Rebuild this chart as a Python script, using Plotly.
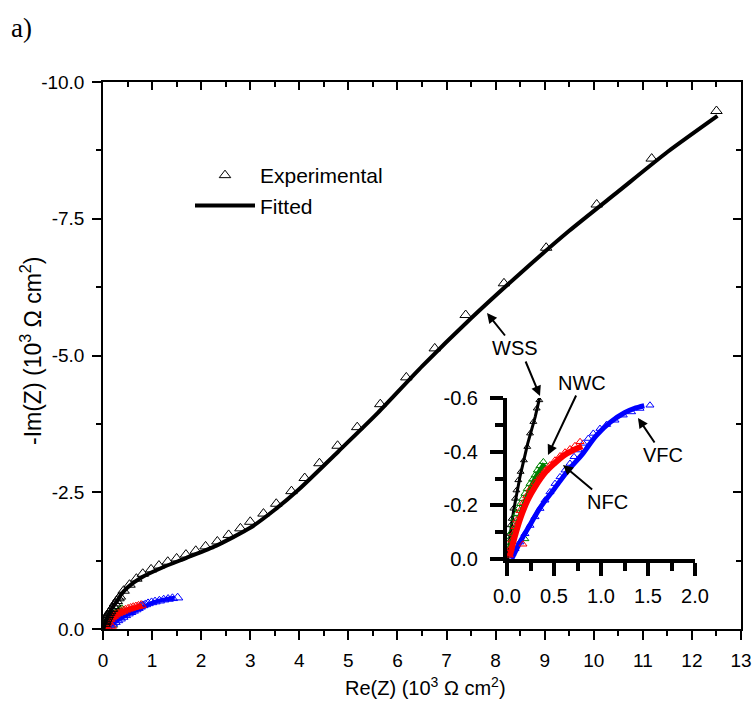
import plotly.graph_objects as go

# ---------------- data (Re(Z), Im(Z) in 10^3 ohm cm^2) ----------------
wss_exp_re = [0.032, 0.039, 0.05, 0.067, 0.085, 0.10, 0.12, 0.145, 0.18, 0.216, 0.245, 0.28, 0.316, 0.344,
              0.42, 0.54, 0.68, 0.81, 0.98, 1.14, 1.32, 1.50, 1.69, 1.89, 2.09, 2.33, 2.56, 2.80, 3.00,
              3.27, 3.53, 3.84, 4.11, 4.41, 4.78, 5.18, 5.65, 6.18, 6.76, 7.39, 8.17, 9.03, 10.06, 11.18, 12.5]
wss_exp_im = [-0.094, -0.126, -0.15, -0.188, -0.225, -0.256, -0.294, -0.325, -0.368, -0.418, -0.468, -0.511, -0.561, -0.592,
              -0.70, -0.81, -0.92, -1.01, -1.09, -1.16, -1.23, -1.29, -1.36, -1.43, -1.51, -1.60, -1.72, -1.84, -1.96,
              -2.11, -2.29, -2.52, -2.76, -3.03, -3.35, -3.69, -4.11, -4.60, -5.13, -5.74, -6.32, -6.97, -7.76, -8.60, -9.47]
wss_fit_re = [0.01, 0.03, 0.07, 0.14, 0.22, 0.30, 0.36, 0.5, 0.8, 1.2, 1.7, 2.3, 3.0, 3.5, 4.0, 4.8, 5.6,
              6.5, 7.5, 8.5, 9.5, 10.5, 11.5, 12.52]
wss_fit_im = [0.0, -0.08, -0.18, -0.31, -0.43, -0.53, -0.62, -0.76, -0.95, -1.12, -1.30, -1.52, -1.85, -2.18,
              -2.56, -3.25, -3.95, -4.80, -5.68, -6.50, -7.28, -8.00, -8.72, -9.38]

nwc_exp_re = [0.025, 0.032, 0.05, 0.067, 0.085, 0.103, 0.121, 0.145, 0.167, 0.191, 0.216, 0.245, 0.273, 0.298,
              0.323, 0.351, 0.387, 0.19]
nwc_exp_im = [-0.051, -0.076, -0.101, -0.126, -0.151, -0.169, -0.188, -0.206, -0.225, -0.244, -0.262, -0.281,
              -0.297, -0.312, -0.331, -0.347, -0.362, -0.075]
nwc_fit_re = [0.03, 0.1, 0.2, 0.3, 0.4]
nwc_fit_im = [-0.04, -0.12, -0.22, -0.30, -0.355]

nfc_exp_re = [0.025, 0.032, 0.05, 0.067, 0.085, 0.103, 0.138, 0.174, 0.209, 0.245, 0.298, 0.351, 0.404, 0.457,
              0.511, 0.564, 0.617, 0.670, 0.723, 0.777, 0.17]
nfc_exp_im = [-0.014, -0.038, -0.07, -0.095, -0.12, -0.145, -0.18, -0.21, -0.235, -0.26, -0.285, -0.308, -0.33,
              -0.35, -0.368, -0.384, -0.398, -0.41, -0.422, -0.437, -0.055]
nfc_fit_re = [0.03, 0.08, 0.14, 0.22, 0.30, 0.40, 0.50, 0.60, 0.70, 0.80]
nfc_fit_im = [-0.01, -0.08, -0.15, -0.22, -0.27, -0.32, -0.355, -0.385, -0.405, -0.42]

vfc_exp_re = [0.05, 0.085, 0.138, 0.191, 0.245, 0.298, 0.351, 0.404, 0.457, 0.511, 0.564, 0.617, 0.670, 0.713,
              0.759, 0.812, 0.865, 0.918, 0.989, 1.060, 1.149, 1.237, 1.326, 1.415, 1.521]
vfc_exp_im = [-0.02, -0.038, -0.063, -0.094, -0.125, -0.157, -0.188, -0.219, -0.250, -0.281, -0.306, -0.331,
              -0.356, -0.381, -0.406, -0.431, -0.449, -0.468, -0.486, -0.501, -0.517, -0.536, -0.548, -0.561, -0.573]
vfc_fit_re = [0.05, 0.15, 0.25, 0.35, 0.50, 0.65, 0.80, 0.95, 1.10, 1.25, 1.35, 1.46]
vfc_fit_im = [0.0, -0.07, -0.13, -0.19, -0.26, -0.33, -0.39, -0.46, -0.51, -0.545, -0.56, -0.571]

main_xticks = list(range(0, 14))
main_yticks = [0.0, -2.5, -5.0, -7.5, -10.0]
main_ylabels = ["0.0", "-2.5", "-5.0", "-7.5", "-10.0"]
inset_xticks = [0.0, 0.5, 1.0, 1.5, 2.0]
inset_xlabels = ["0.0", "0.5", "1.0", "1.5", "2.0"]
inset_yticks = [0.0, -0.2, -0.4, -0.6]
inset_ylabels = ["0.0", "-0.2", "-0.4", "-0.6"]

FONT = "Liberation Sans, Arial, sans-serif"
BLACK = "#000000"
GREEN = "#008000"
RED = "#ff0000"
BLUE = "#0000ff"

fig = go.Figure()

series = [
    (nwc_exp_re, nwc_exp_im, nwc_fit_re, nwc_fit_im, GREEN, 4),
    (vfc_exp_re, vfc_exp_im, vfc_fit_re, vfc_fit_im, BLUE, 4),
    (nfc_exp_re, nfc_exp_im, nfc_fit_re, nfc_fit_im, RED, 5),
]

# main plot: small samples
for ex, ey, fx, fy, col, lw in series:
    fig.add_trace(go.Scatter(x=ex, y=ey, mode="markers", showlegend=False,
                             marker=dict(symbol="triangle-up-open", size=9, color=col, line=dict(width=1)),
                             xaxis="x", yaxis="y"))
    fig.add_trace(go.Scatter(x=fx, y=fy, mode="lines", showlegend=False,
                             line=dict(color=col, width=lw), xaxis="x", yaxis="y"))

# main plot: WSS
fig.add_trace(go.Scatter(x=wss_exp_re, y=wss_exp_im, mode="markers", name="Experimental",
                         marker=dict(symbol="triangle-up-open", size=10, color=BLACK, line=dict(width=1)),
                         xaxis="x", yaxis="y"))
fig.add_trace(go.Scatter(x=wss_fit_re, y=wss_fit_im, mode="lines", name="Fitted",
                         line=dict(color=BLACK, width=4, shape="spline", smoothing=0.6), xaxis="x", yaxis="y"))

# inset
fig.add_trace(go.Scatter(x=wss_exp_re, y=wss_exp_im, mode="markers", showlegend=False,
                         marker=dict(symbol="triangle-up-open", size=6, color=BLACK, line=dict(width=1)),
                         xaxis="x2", yaxis="y2"))
fig.add_trace(go.Scatter(x=wss_fit_re, y=wss_fit_im, mode="lines", showlegend=False,
                         line=dict(color=BLACK, width=3), xaxis="x2", yaxis="y2"))
for ex, ey, fx, fy, col, lw in series:
    fig.add_trace(go.Scatter(x=ex, y=ey, mode="markers", showlegend=False,
                             marker=dict(symbol="triangle-up-open", size=7, color=col, line=dict(width=1)),
                             xaxis="x2", yaxis="y2"))
    fig.add_trace(go.Scatter(x=fx, y=fy, mode="lines", showlegend=False,
                             line=dict(color=col, width=lw + 1, shape="spline"), xaxis="x2", yaxis="y2"))

# invisible anchor for mirrored (top/right) axes
fig.add_trace(go.Scatter(x=[0], y=[0], mode="markers", marker=dict(opacity=0), showlegend=False,
                         hoverinfo="skip", xaxis="x3", yaxis="y3"))

PX0, PX1, PY0, PY1 = 103, 741, 629, 82
X0, X1 = PX0 / 754, PX1 / 754
Y0, Y1 = 1 - PY0 / 704, 1 - PY1 / 704
IX0, IX1 = 507 / 754, 695 / 754
IY0, IY1 = 1 - 559 / 704, 1 - 398 / 704

tickfont = dict(family=FONT, size=19, color=BLACK)
inset_tickfont = dict(family=FONT, size=20, color=BLACK)
common = dict(showgrid=False, zeroline=False, automargin=False, tickcolor=BLACK,
              showline=True, linecolor=BLACK)

fig.update_layout(
    width=754, height=704, margin=dict(l=0, r=0, t=0, b=0, pad=0, autoexpand=False),
    paper_bgcolor="white", plot_bgcolor="rgba(0,0,0,0)",
    font=dict(family=FONT, color=BLACK),
    xaxis=dict(domain=[X0, X1], anchor="y", range=[0, 13], tickvals=main_xticks,
               ticks="outside", ticklen=9, tickwidth=1.5, linewidth=1.5, ticklabeloverflow="allow",
               minor=dict(dtick=0.5, tick0=0, ticks="outside", ticklen=5, tickwidth=1.5, tickcolor=BLACK),
               tickfont=tickfont, ticklabelstandoff=4, **common),
    yaxis=dict(domain=[Y0, Y1], anchor="x", range=[0, -10], tickvals=main_yticks, ticktext=main_ylabels,
               ticks="outside", ticklen=9, tickwidth=1.5, linewidth=1.5, ticklabeloverflow="allow",
               minor=dict(dtick=1.25, tick0=0, ticks="outside", ticklen=5, tickwidth=1.5, tickcolor=BLACK),
               tickfont=tickfont, ticklabelstandoff=4, **common),
    xaxis3=dict(overlaying="x", side="top", anchor="y", range=[0, 13], dtick=1, tick0=0,
                ticks="inside", ticklen=8, tickwidth=1.5, linewidth=1.5,
                minor=dict(dtick=0.5, tick0=0, ticks="inside", ticklen=5, tickwidth=1.5, tickcolor=BLACK),
                showticklabels=False, **common),
    yaxis3=dict(overlaying="y", side="right", anchor="x", range=[0, -10], dtick=2.5, tick0=0,
                ticks="inside", ticklen=8, tickwidth=1.5, linewidth=1.5,
                minor=dict(dtick=1.25, tick0=0, ticks="inside", ticklen=5, tickwidth=1.5, tickcolor=BLACK),
                showticklabels=False, **common),
    xaxis2=dict(domain=[IX0, IX1], anchor="y2", range=[0, 2.0], tickvals=inset_xticks, ticktext=inset_xlabels,
                ticks="outside", ticklen=13, tickwidth=4, linewidth=4,
                minor=dict(dtick=0.25, tick0=0, ticks="outside", ticklen=8, tickwidth=4, tickcolor=BLACK),
                tickfont=inset_tickfont, ticklabelstandoff=3, **common),
    yaxis2=dict(domain=[IY0, IY1], anchor="x2", range=[0, -0.6], tickvals=inset_yticks, ticktext=inset_ylabels,
                ticks="outside", ticklen=13, tickwidth=4, linewidth=4,
                minor=dict(dtick=0.1, tick0=0, ticks="outside", ticklen=8, tickwidth=4, tickcolor=BLACK),
                tickfont=inset_tickfont, ticklabelstandoff=8, **common),
    legend=dict(x=190 / 754, y=1 - 155 / 704, xanchor="left", yanchor="top",
                bgcolor="rgba(0,0,0,0)", font=dict(family=FONT, size=21, color=BLACK),
                itemwidth=60, tracegroupgap=0),
)


def mx(px):
    return (px - PX0) / ((PX1 - PX0) / 13)


def my(py):
    return -(PY0 - py) / ((PY0 - PY1) / 10)


ann_font = dict(family=FONT, size=20, color=BLACK)
arrow = dict(showarrow=True, arrowhead=2, arrowsize=1, arrowwidth=2, arrowcolor=BLACK)
ctr = dict(xanchor="center", yanchor="middle")
annotations = [
    dict(text="a)", x=21 / 754, y=1 - 28 / 704, xref="paper", yref="paper", showarrow=False,
         font=dict(family="Liberation Serif, Times New Roman, serif", size=27, color=BLACK), **ctr),
    dict(text="Re(Z) (10<sup>3</sup> Ω cm<sup>2</sup>)", x=425 / 754, y=1 - 686 / 704,
         xref="paper", yref="paper", showarrow=False, font=ann_font, **ctr),
    dict(text="-Im(Z) (10<sup>3</sup> Ω cm<sup>2</sup>)", x=31 / 754, y=1 - 351 / 704, textangle=-90,
         xref="paper", yref="paper", showarrow=False, font=dict(family=FONT, size=23, color=BLACK), **ctr),
    # WSS label with arrow to the main curve, plus a second arrow to the inset curve
    dict(text="WSS", x=mx(487), y=my(313), xref="x", yref="y", ax=28, ay=35, font=ann_font, **arrow),
    dict(text="", x=mx(540), y=my(396), xref="x", yref="y", ax=-15, ay=-36, font=dict(size=1), **arrow),
    # sample labels with arrows (arrow starts at the label's box edge)
    dict(text="NWC", x=mx(548), y=my(455), xref="x", yref="y", ax=582 - 548, ay=383 - 455,
         font=ann_font, **arrow),
    dict(text="VFC", x=mx(638), y=my(418), xref="x", yref="y", ax=663 - 638, ay=455 - 418,
         font=ann_font, **arrow),
    dict(text="NFC", x=mx(563), y=my(465), xref="x", yref="y", ax=607 - 563, ay=502 - 465,
         font=ann_font, **arrow),
]
fig.update_layout(annotations=annotations)

fig.write_html("out.html")
